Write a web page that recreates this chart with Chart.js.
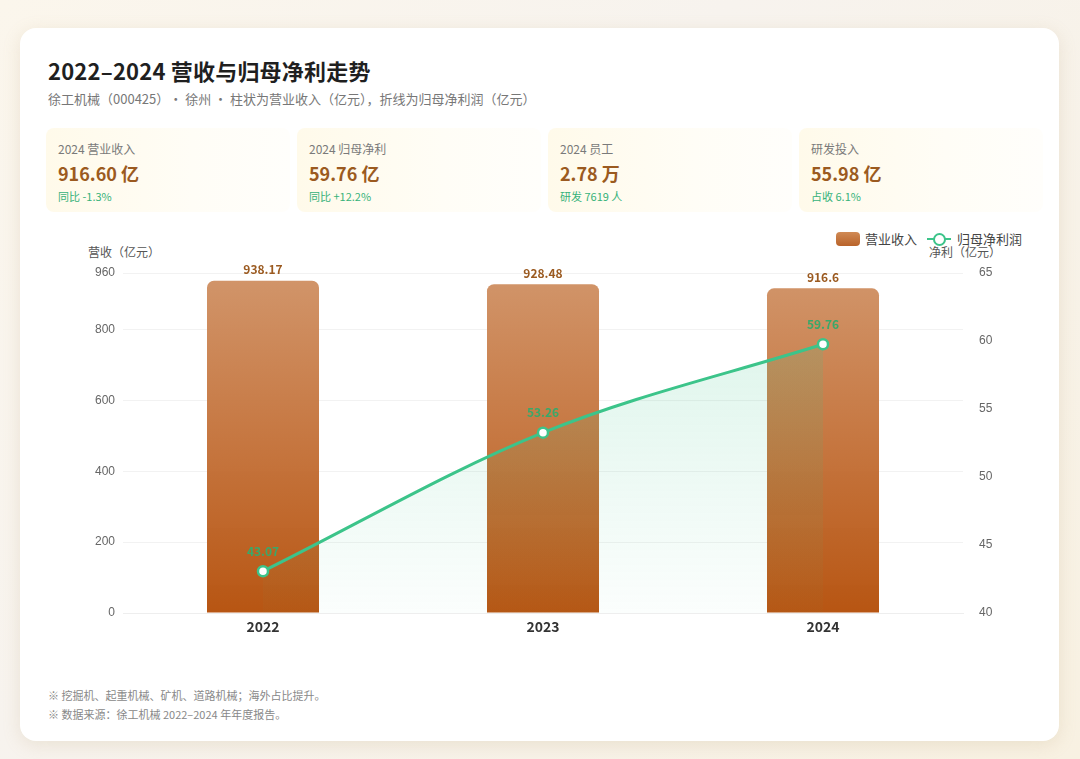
<!DOCTYPE html>
<html><head><meta charset="utf-8">
<script src="https://cdn.jsdelivr.net/npm/chart.js@4.4.1/dist/chart.umd.min.js"></script>
<style>
html,body{margin:0;padding:0;width:1080px;height:759px;overflow:hidden;font-family:"Noto Sans CJK SC","Noto Sans",sans-serif;}
body{background:linear-gradient(135deg,#fbf6ec 0%,#f7f3ee 40%,#f8f1e2 100%);position:relative;}
.card{position:absolute;left:20px;top:28px;width:1039px;height:713px;background:#fff;border-radius:16px;box-shadow:0 4px 18px rgba(180,150,100,0.18);}
.title{position:absolute;left:48px;top:54px;font-size:22px;font-weight:700;color:#1f1f1f;letter-spacing:0.2px;}
.sub{position:absolute;left:48px;top:89px;font-size:13px;color:#777;}
.kpi{position:absolute;top:128px;height:84px;width:244px;border-radius:8px;background:linear-gradient(90deg,#fffaea 0%,#fffdf6 60%,#fffefb 100%);}
.kpi .l{position:absolute;left:12px;top:12px;font-size:12px;color:#7a7a7a;}
.kpi .v{position:absolute;left:12px;top:32px;font-size:18px;font-weight:700;color:#9b5a20;}
.kpi .s{position:absolute;left:12px;top:60px;font-size:11px;color:#36b27a;}
.axt{position:absolute;font-size:12px;color:#555;}
.legend{position:absolute;top:229px;left:836px;font-size:13px;color:#444;display:flex;align-items:center;}
.legend .box{width:24px;height:14px;border-radius:4px;background:linear-gradient(180deg,#d08a55,#b9632a);margin-right:5px;}
.legend .ln{position:relative;width:24px;height:14px;margin:0 6px 0 10px;}
.legend .ln:before{content:"";position:absolute;left:0;right:0;top:6px;height:2.5px;background:#3cc48a;}
.legend .ln:after{content:"";position:absolute;left:6px;top:1px;width:9px;height:9px;border-radius:50%;border:2px solid #3cc48a;background:#fff;}
.foot{position:absolute;left:48px;font-size:11px;color:#888;}
#wrap{position:absolute;left:60px;top:255px;width:970px;height:390px;}
</style></head>
<body>
<div class="card"></div>
<div class="title">2022–2024 营收与归母净利走势</div>
<div class="sub">徐工机械（000425）• 徐州 • 柱状为营业收入（亿元），折线为归母净利润（亿元）</div>
<div class="kpi" style="left:46px"><div class="l">2024 营业收入</div><div class="v">916.60 亿</div><div class="s">同比 -1.3%</div></div>
<div class="kpi" style="left:297px"><div class="l">2024 归母净利</div><div class="v">59.76 亿</div><div class="s">同比 +12.2%</div></div>
<div class="kpi" style="left:548px"><div class="l">2024 员工</div><div class="v">2.78 万</div><div class="s">研发 7619 人</div></div>
<div class="kpi" style="left:799px"><div class="l">研发投入</div><div class="v">55.98 亿</div><div class="s">占收 6.1%</div></div>
<div class="axt" style="left:88px;top:243px;">营收（亿元）</div>
<div class="axt" style="left:929px;top:243px;">净利（亿元）</div>
<div class="legend" id="legend"></div>
<div id="wrap"><canvas id="c"></canvas></div>
<div class="foot" style="top:687px">※ 挖掘机、起重机械、矿机、道路机械；海外占比提升。</div>
<div class="foot" style="top:706px">※ 数据来源：徐工机械 2022–2024 年年度报告。</div>
<script>
const categories = ["2022","2023","2024"];
const revenue = [938.17, 928.48, 916.6];
const netProfit = [43.07, 53.26, 59.76];
const revenueTicks = [0,200,400,600,800,960];
const profitTicks = [40,45,50,55,60,65];
const seriesNames = ["营业收入","归母净利润"];

document.getElementById('legend').innerHTML =
  '<div class="box"></div><span>'+seriesNames[0]+'</span><div class="ln"></div><span>'+seriesNames[1]+'</span>';

const labelPlugin = {
  id:'vlabels',
  afterDatasetsDraw(chart){
    const ctx = chart.ctx;
    ctx.save();
    ctx.textAlign='center';
    ctx.textBaseline='bottom';
    const m0 = chart.getDatasetMeta(0);
    ctx.font='700 12px "Noto Sans CJK SC", sans-serif';
    ctx.fillStyle='#9b5a20';
    m0.data.forEach((b,i)=>{ ctx.fillText(String(revenue[i]), b.x, b.y-5); });
    const m1 = chart.getDatasetMeta(1);
    ctx.fillStyle='#3aa86a';
    m1.data.forEach((p,i)=>{ ctx.fillText(netProfit[i].toFixed(2), p.x, p.y-14); });
    ctx.restore();
  }
};

const ctx = document.getElementById('c');
new Chart(ctx,{
  data:{
    labels:categories,
    datasets:[
      {type:'bar',label:seriesNames[0],data:revenue,yAxisID:'y',order:2,
       barPercentage:0.8,categoryPercentage:0.5,
       borderRadius:{topLeft:7,topRight:7,bottomLeft:0,bottomRight:0},borderSkipped:'bottom',
       backgroundColor(c){
         const a=c.chart.chartArea; if(!a) return '#c4703a';
         const g=c.chart.ctx.createLinearGradient(0,a.top,0,a.bottom);
         g.addColorStop(0,'rgba(208,146,102,0.97)');
         g.addColorStop(0.5,'rgba(196,114,58,0.97)');
         g.addColorStop(1,'rgba(182,82,14,0.98)');
         return g;
       }},
      {type:'line',label:seriesNames[1],data:netProfit,yAxisID:'y1',order:1,
       borderColor:'#3cc48a',borderWidth:3,tension:0.4,cubicInterpolationMode:'monotone',
       pointRadius:5,pointBackgroundColor:'#fff',pointBorderColor:'#3cc48a',pointBorderWidth:2.5,
       fill:'start',
       backgroundColor(c){
         const a=c.chart.chartArea; if(!a) return 'rgba(60,196,138,0.1)';
         const g=c.chart.ctx.createLinearGradient(0,a.top,0,a.bottom);
         g.addColorStop(0,'rgba(60,196,138,0.20)');
         g.addColorStop(1,'rgba(60,196,138,0.02)');
         return g;
       }}
    ]
  },
  options:{
    responsive:true,maintainAspectRatio:false,animation:false,
    layout:{padding:{top:18,left:0,right:0,bottom:0}},
    plugins:{legend:{display:false},tooltip:{enabled:false}},
    scales:{
      x:{grid:{display:false},border:{display:true,color:'#eeeeee'},
         ticks:{color:'#333',font:{size:14,weight:'700',family:'"Noto Sans CJK SC", sans-serif'},padding:-3},
         afterFit(s){s.height=32;}},
      y:{position:'left',min:0,max:960,
         afterBuildTicks(s){s.ticks=revenueTicks.map(v=>({value:v}));},
         grid:{color:'#f2f2f2',drawTicks:false},border:{display:false},
         ticks:{color:'#666',font:{size:12},padding:8},
         afterFit(s){s.width=63;}},
      y1:{position:'right',min:40,max:65,
         afterBuildTicks(s){s.ticks=profitTicks.map(v=>({value:v}));},
         grid:{display:false},border:{display:false},
         ticks:{color:'#666',font:{size:12},padding:8},
         afterFit(s){s.width=67;}}
    }
  },
  plugins:[labelPlugin]
});
</script>
</body></html>
